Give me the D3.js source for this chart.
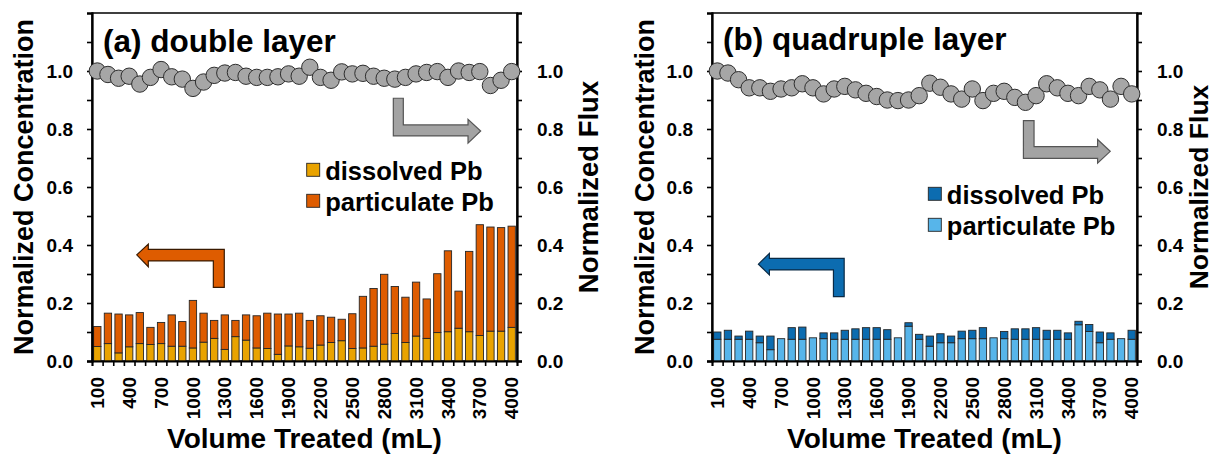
<!DOCTYPE html>
<html>
<head>
<meta charset="utf-8">
<script src="https://cdn.jsdelivr.net/npm/d3@7"></script>
<style>
    body { margin: 0; background: #fff; }
    svg text { font-family: Arial, "Liberation Sans", sans-serif; font-weight: bold; fill: #000; }
</style>
</head>
<body>
<svg id="chart" width="1216" height="456"></svg>
<script>
// categories (mL treated) and the labelled ones
var volumes = [100, 200, 300, 400, 500, 600, 700, 800, 900, 1000,
               1100, 1200, 1300, 1400, 1500, 1600, 1700, 1800, 1900, 2000,
               2100, 2200, 2300, 2400, 2500, 2600, 2700, 2800, 2900, 3000,
               3100, 3200, 3300, 3400, 3500, 3600, 3700, 3800, 3900, 4000];
var volumeTicks = [100, 400, 700, 1000, 1300, 1600, 1900, 2200, 2500, 2800, 3100, 3400, 3700, 4000];
var yTicks = [0, 0.2, 0.4, 0.6, 0.8, 1.0];
var yMinorTicks = [0.1, 0.3, 0.5, 0.7, 0.9, 1.1];

// (a) double layer
var fluxA = [1.000, 0.988, 0.975, 0.982, 0.955, 0.978, 1.005, 0.980, 0.972, 0.940,
             0.962, 0.985, 0.993, 0.995, 0.982, 0.978, 0.978, 0.980, 0.990, 0.982,
             1.013, 0.978, 0.968, 0.997, 0.990, 0.992, 0.982, 0.975, 0.972, 0.978,
             0.990, 0.995, 0.998, 0.978, 1.000, 0.995, 0.998, 0.950, 0.968, 0.998];
var dissolvedA = [0.050, 0.060, 0.028, 0.049, 0.060, 0.057, 0.060, 0.051, 0.051, 0.045,
                  0.065, 0.078, 0.040, 0.084, 0.072, 0.045, 0.043, 0.023, 0.052, 0.049,
                  0.044, 0.055, 0.064, 0.070, 0.043, 0.045, 0.051, 0.058, 0.095, 0.064,
                  0.086, 0.078, 0.098, 0.101, 0.113, 0.101, 0.088, 0.103, 0.103, 0.116];
var particulateA = [0.069, 0.105, 0.134, 0.110, 0.107, 0.059, 0.073, 0.108, 0.085, 0.164,
                    0.100, 0.062, 0.119, 0.056, 0.087, 0.111, 0.122, 0.139, 0.110, 0.116,
                    0.096, 0.101, 0.087, 0.074, 0.120, 0.178, 0.199, 0.241, 0.162, 0.156,
                    0.186, 0.136, 0.203, 0.279, 0.128, 0.277, 0.382, 0.359, 0.357, 0.349];

// (b) quadruple layer
var fluxB = [1.000, 0.993, 0.970, 0.942, 0.942, 0.930, 0.938, 0.942, 0.956, 0.942,
             0.921, 0.938, 0.947, 0.935, 0.923, 0.912, 0.900, 0.898, 0.900, 0.915,
             0.958, 0.944, 0.921, 0.903, 0.938, 0.898, 0.923, 0.930, 0.909, 0.892,
             0.915, 0.956, 0.942, 0.923, 0.915, 0.947, 0.935, 0.903, 0.947, 0.921];
var particulateB = [0.075, 0.075, 0.075, 0.075, 0.063, 0.039, 0.077, 0.075, 0.075, 0.080,
                    0.077, 0.075, 0.075, 0.075, 0.075, 0.075, 0.075, 0.080, 0.120, 0.075,
                    0.051, 0.063, 0.063, 0.077, 0.077, 0.077, 0.080, 0.077, 0.075, 0.075,
                    0.075, 0.075, 0.075, 0.075, 0.125, 0.102, 0.063, 0.075, 0.077, 0.075];
var dissolvedB = [0.025, 0.031, 0.011, 0.028, 0.023, 0.047, 0.000, 0.040, 0.042, 0.000,
                  0.020, 0.022, 0.031, 0.036, 0.040, 0.040, 0.033, 0.000, 0.012, 0.017,
                  0.035, 0.031, 0.023, 0.026, 0.029, 0.038, 0.000, 0.025, 0.036, 0.036,
                  0.040, 0.031, 0.031, 0.022, 0.012, 0.024, 0.037, 0.022, 0.000, 0.031];

var svg = d3.select('#chart'),
    plotW = 425,
    plotH = 348,
    plotTop = 13;

// draw one panel: bars (stacked), flux circles, axes, legend, arrows
function drawPanel(opts) {
    var g = svg.append('g').attr('transform', 'translate(' + opts.left + ',' + plotTop + ')');

    var xb = d3.scaleBand().domain(volumes).range([0, plotW]).paddingInner(0.31).paddingOuter(0.155),
        xi = d3.scaleLinear().domain([0, volumes.length]).range([0, plotW]),
        y = d3.scaleLinear().domain([0, 1.2]).range([plotH, 0]);

    // table for d3.stack built from the named arrays
    var rows = volumes.map(function (v, i) {
        var r = { vol: v };
        opts.series.forEach(function (s) { r[s.key] = s.values[i]; });
        return r;
    });
    var stacked = d3.stack().keys(opts.series.map(function (s) { return s.key; }))(rows);

    g.append('rect')
        .attr('width', plotW).attr('height', plotH)
        .attr('fill', 'none').attr('stroke', '#000').attr('stroke-width', 1.5);

    stacked.forEach(function (layer, li) {
        g.append('g').selectAll('rect')
            .data(layer)
            .enter().append('rect')
            .attr('x', function (d) { return xb(d.data.vol); })
            .attr('width', xb.bandwidth())
            .attr('y', function (d) { return y(d[1]); })
            .attr('height', function (d) { return Math.max(0, y(d[0]) - y(d[1])); })
            .attr('fill', opts.series[li].color)
            .attr('stroke', '#262626')
            .attr('stroke-width', 0.9);
    });

    // arrows (points given in [category index, value] units)
    var line = d3.line()
        .x(function (p) { return xi(p[0]); })
        .y(function (p) { return y(p[1]); });
    opts.arrows.forEach(function (a) {
        g.append('path')
            .attr('d', line(a.pts) + 'Z')
            .attr('fill', a.fill)
            .attr('stroke', a.stroke)
            .attr('stroke-width', 1.2);
    });

    // axes
    var yLeft = g.append('g').call(d3.axisLeft(y).tickValues(yTicks).tickSize(5).tickPadding(14).tickFormat(d3.format('.1f')));
    var yLeftMinor = g.append('g').call(d3.axisLeft(y).tickValues(yMinorTicks).tickSize(5).tickFormat(''));
    var yRight = g.append('g').attr('transform', 'translate(' + plotW + ',0)')
        .call(d3.axisRight(y).tickValues(yTicks).tickSize(5).tickPadding(15).tickFormat(d3.format('.1f')));
    var yRightMinor = g.append('g').attr('transform', 'translate(' + plotW + ',0)')
        .call(d3.axisRight(y).tickValues(yMinorTicks).tickSize(5).tickFormat(''));
    var xTicks = g.append('g').attr('transform', 'translate(0,' + plotH + ')')
        .call(d3.axisBottom(xi).tickValues(d3.range(volumes.length + 1)).tickSize(5).tickFormat(''));
    var xLabels = g.append('g').attr('transform', 'translate(0,' + plotH + ')')
        .call(d3.axisBottom(xb).tickValues(volumeTicks).tickSize(0));
    xLabels.select('.domain').remove();
    xLabels.selectAll('text')
        .attr('transform', 'rotate(-90)')
        .attr('text-anchor', 'end')
        .attr('x', -16).attr('y', 0).attr('dy', '0.35em');

    [yLeft, yLeftMinor, yRight, yRightMinor, xTicks].forEach(function (a) {
        a.selectAll('.domain').attr('stroke-width', 1.8);
        a.selectAll('.tick line').attr('stroke-width', 1.6);
    });
    g.selectAll('.tick text').style('font-size', '19px').attr('fill', '#000');

    // flux circles on top
    g.append('g').selectAll('circle')
        .data(opts.flux)
        .enter().append('circle')
        .attr('cx', function (d, i) { return xb(volumes[i]) + xb.bandwidth() / 2; })
        .attr('cy', function (d) { return y(d); })
        .attr('r', 8.2)
        .attr('fill', '#a6a6a6')
        .attr('stroke', '#2e2e2e')
        .attr('stroke-width', 1);

    // panel title
    g.append('text')
        .attr('x', 11).attr('y', opts.titleY)
        .style('font-size', opts.titleSize + 'px')
        .text(opts.title);

    // legend
    var leg = g.append('g').attr('transform', 'translate(' + opts.legend[0] + ',' + opts.legend[1] + ')');
    opts.legendItems.forEach(function (it, i) {
        leg.append('rect')
            .attr('x', 0).attr('y', i * 31)
            .attr('width', 13).attr('height', 13)
            .attr('fill', it.color).attr('stroke', '#262626').attr('stroke-width', 0.9);
        leg.append('text')
            .attr('x', 18.5).attr('y', i * 31 + 16.5)
            .style('font-size', '25.5px')
            .text(it.label);
    });

    // axis titles
    g.append('text')
        .attr('x', plotW / 2).attr('y', 435)
        .attr('text-anchor', 'middle')
        .style('font-size', '28px')
        .text('Volume Treated (mL)');
    g.append('text')
        .attr('transform', 'translate(' + opts.leftTitleX + ',' + (plotH / 2) + ') rotate(-90)')
        .attr('text-anchor', 'middle')
        .style('font-size', '27px')
        .text('Normalized Concentration');
    g.append('text')
        .attr('transform', 'translate(' + opts.rightTitleX + ',' + (plotH / 2) + ') rotate(-90)')
        .attr('text-anchor', 'middle')
        .style('font-size', opts.rightTitleSize + 'px')
        .text('Normalized Flux');
}

var yellow = '#e9a300', orange = '#de5c00', darkBlue = '#0c6cb0', lightBlue = '#57b5ea',
    arrowGray = '#a3a3a3';

drawPanel({
    left: 92,
    title: '(a) double layer',
    titleY: 39,
    titleSize: 31.5,
    flux: fluxA,
    series: [
        { key: 'dissolved', values: dissolvedA, color: yellow },
        { key: 'particulate', values: particulateA, color: orange }
    ],
    legendItems: [
        { label: 'dissolved Pb', color: yellow },
        { label: 'particulate Pb', color: orange }
    ],
    legend: [214.7, 150.3],
    leftTitleX: -59,
    rightTitleX: 506,
    rightTitleSize: 27.5,
    arrows: [
        { fill: arrowGray, stroke: '#555', pts: [[28.36, 0.906], [29.30, 0.906], [29.30, 0.814], [35.39, 0.814], [35.39, 0.833],
                                                 [36.58, 0.793], [35.39, 0.751], [35.39, 0.776], [28.36, 0.776]] },
        { fill: orange, stroke: '#3a1a00', pts: [[4.21, 0.366], [5.30, 0.403], [5.30, 0.385], [12.45, 0.385], [12.45, 0.254],
                                                 [11.42, 0.254], [11.42, 0.345], [5.30, 0.345], [5.30, 0.325]] }
    ]
});

drawPanel({
    left: 712,
    title: '(b) quadruple layer',
    titleY: 37,
    titleSize: 31.5,
    flux: fluxB,
    series: [
        { key: 'particulate', values: particulateB, color: lightBlue },
        { key: 'dissolved', values: dissolvedB, color: darkBlue }
    ],
    legendItems: [
        { label: 'dissolved Pb', color: darkBlue },
        { label: 'particulate Pb', color: lightBlue }
    ],
    legend: [216.3, 174.3],
    leftTitleX: -58,
    rightTitleX: 496,
    rightTitleSize: 26.5,
    arrows: [
        { fill: arrowGray, stroke: '#555', pts: [[29.31, 0.829], [30.31, 0.829], [30.31, 0.739], [36.29, 0.739], [36.29, 0.764],
                                                 [37.48, 0.723], [36.29, 0.682], [36.29, 0.699], [29.31, 0.699]] },
        { fill: darkBlue, stroke: '#0a2a45', pts: [[4.37, 0.334], [5.40, 0.371], [5.40, 0.354], [12.44, 0.354], [12.44, 0.222],
                                                   [11.43, 0.222], [11.43, 0.314], [5.40, 0.314], [5.40, 0.297]] }
    ]
});
</script>
</body>
</html>
